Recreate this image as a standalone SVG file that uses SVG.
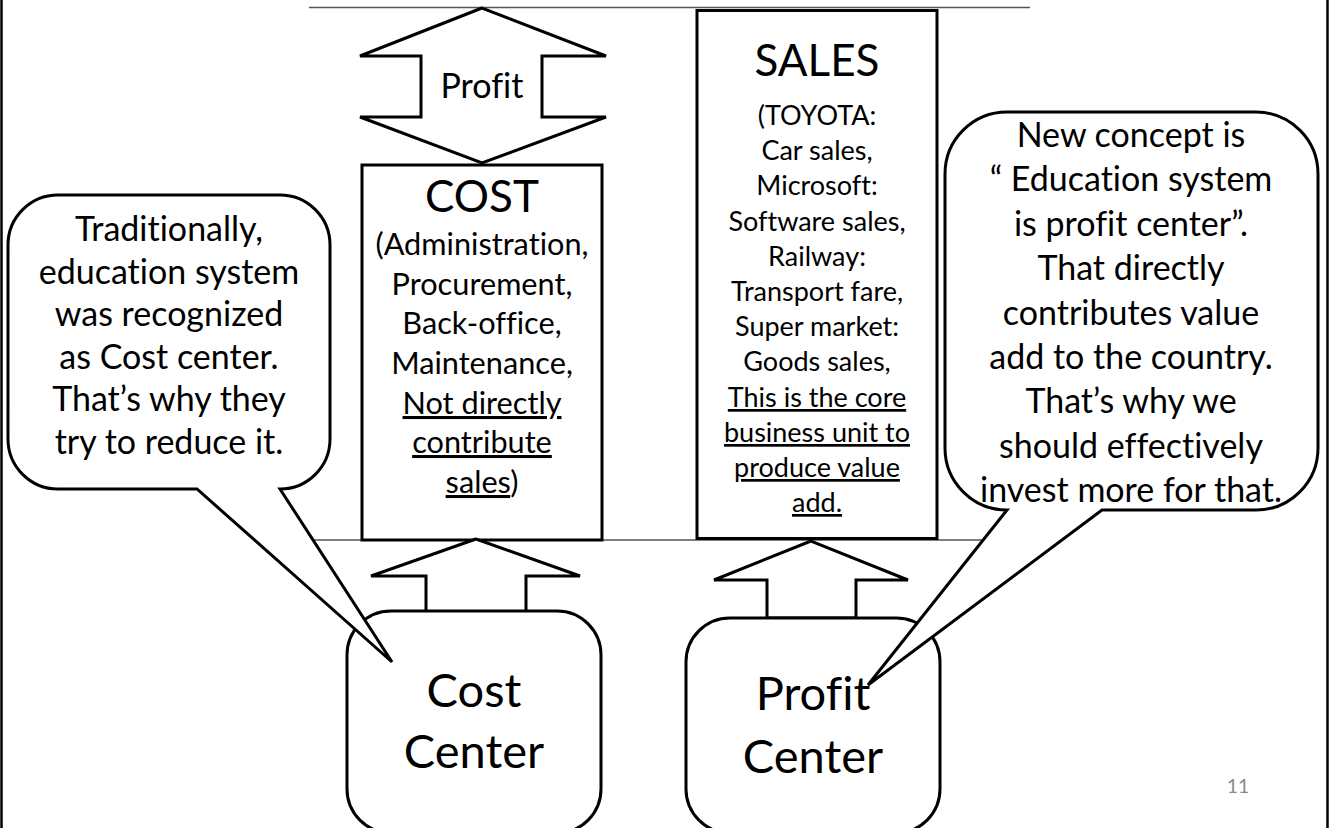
<svg xmlns="http://www.w3.org/2000/svg" width="1331" height="828" viewBox="0 0 1331 828">
<style>
.shape{fill:#fff;stroke:#000;stroke-width:3;stroke-linejoin:miter}
.rule{stroke:#555;stroke-width:1.5;fill:none}
.frame{stroke:#000;stroke-width:2.5}
text{font-family:Lato,"Liberation Sans",sans-serif;fill:#000;text-anchor:middle;font-variant-ligatures:none}
.head{font-size:44px}
.bub{font-size:34px}
.cost{font-size:30.7px}
.sales{font-size:27px}
.ctr{font-size:47px}
.lbl{font-size:34px}
.u{text-decoration:underline}
.pg{font-size:19.5px;fill:#8a8a8a}
</style>
<rect width="1331" height="828" fill="#fff"/>
<g id="frame">
<line class="frame" x1="1.5" y1="0" x2="1.5" y2="828"/>
<line class="frame" x1="1327.5" y1="0" x2="1327.5" y2="828"/>
<line class="rule" x1="309" y1="7.5" x2="1030" y2="7.5"/>
<line class="rule" x1="309" y1="540" x2="1030" y2="540"/>
</g>
<g id="cost-box">
<rect class="shape" x="362" y="165" width="240" height="375"/>
<text class="head" x="482" y="212">COST</text>
<text class="cost" x="482" y="255">(Administration,</text>
<text class="cost" x="482" y="295">Procurement,</text>
<text class="cost" x="482" y="334">Back-office,</text>
<text class="cost" x="482" y="374">Maintenance,</text>
<text class="cost u" x="482" y="414">Not directly</text>
<text class="cost u" x="482" y="453">contribute</text>
<text class="cost" x="482" y="493"><tspan class="u">sales</tspan>)</text>
</g>
<g id="sales-box">
<rect class="shape" x="697" y="10.5" width="240" height="528"/>
<text class="head" x="817" y="76">SALES</text>
<text class="sales" x="817" y="125">(TOYOTA:</text>
<text class="sales" x="817" y="160">Car sales,</text>
<text class="sales" x="817" y="195">Microsoft:</text>
<text class="sales" x="817" y="231">Software sales,</text>
<text class="sales" x="817" y="266">Railway:</text>
<text class="sales" x="817" y="301">Transport fare,</text>
<text class="sales" x="817" y="336">Super market:</text>
<text class="sales" x="817" y="371">Goods sales,</text>
<text class="sales u" x="817" y="407">This is the core</text>
<text class="sales u" x="817" y="442">business unit to</text>
<text class="sales u" x="817" y="477">produce value</text>
<text class="sales u" x="817" y="512">add.</text>
</g>
<g id="connectors">
<path class="shape" d="M482,8 L360,56 L421,56 L421,117 L360,117 L482,163 L606,117 L542,117 L542,56 L606,56 Z"/>
<text class="lbl" x="482" y="98">Profit</text>
<path class="shape" d="M476,539 L371,576 L426,576 L426,612 L526,612 L526,576 L580,576 Z"/>
<path class="shape" d="M811,541 L714,580 L767,580 L767,618 L856,618 L856,580 L908,580 Z"/>
</g>
<g id="cost-center">
<rect class="shape" x="347" y="611" width="254" height="222" rx="44"/>
<text class="ctr" x="474" y="707">Cost</text>
<text class="ctr" x="474" y="768">Center</text>
</g>
<g id="profit-center">
<rect class="shape" x="686" y="618" width="254" height="215" rx="44"/>
<text class="ctr" x="813" y="710">Profit</text>
<text class="ctr" x="813" y="773">Center</text>
</g>
<g id="callout-left">
<path class="shape" d="M58,195 H280 A50,50 0 0 1 330,245 V439 A50,50 0 0 1 280,489 L392,662 L197,489 H58 A50,50 0 0 1 8,439 V245 A50,50 0 0 1 58,195 Z"/>
<text class="bub" x="169" y="241">Traditionally,</text>
<text class="bub" x="169" y="284">education system</text>
<text class="bub" x="169" y="326">was recognized</text>
<text class="bub" x="169" y="369">as Cost center.</text>
<text class="bub" x="169" y="411">That’s why they</text>
<text class="bub" x="169" y="454">try to reduce it.</text>
</g>
<g id="callout-right">
<path class="shape" d="M1007,112 H1256 A62,62 0 0 1 1318,174 V448 A62,62 0 0 1 1256,510 H1102 L868,685 L1007,510 A62,62 0 0 1 945,448 V174 A62,62 0 0 1 1007,112 Z"/>
<text class="bub" x="1131" y="147">New concept is</text>
<text class="bub" x="1131" y="191">“ Education system</text>
<text class="bub" x="1131" y="236">is profit center”.</text>
<text class="bub" x="1131" y="280">That directly</text>
<text class="bub" x="1131" y="325">contributes value</text>
<text class="bub" x="1131" y="369">add to the country.</text>
<text class="bub" x="1131" y="413">That’s why we</text>
<text class="bub" x="1131" y="458">should effectively</text>
<text class="bub" x="1131" y="502">invest more for that.</text>
</g>
<text class="pg" x="1238" y="793">11</text>
</svg>
